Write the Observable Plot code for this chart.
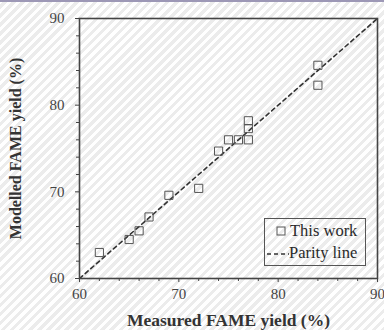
<!DOCTYPE html>
<html>
<head>
<meta charset="utf-8">
<script src="https://cdn.jsdelivr.net/npm/d3@7"></script>
<script src="https://cdn.jsdelivr.net/npm/@observablehq/plot@0.6"></script>
<style>
  html, body { margin: 0; padding: 0; }
  body {
    width: 384px; height: 330px; overflow: hidden; position: relative;
    background: repeating-linear-gradient(135deg, #ffffff 0px, #ffffff 3.2px, #ececec 3.2px, #ececec 6.4px);
    font-family: "Liberation Serif", "DejaVu Serif", serif;
  }
  #topbar { position: absolute; left: 0; top: 0; width: 384px; height: 2px; background: #9d98b6; }
  #chart { position: absolute; left: 0; top: 0; }
  #legend {
    position: absolute; left: 264px; top: 218px; width: 102px; height: 48px;
    border: 1px solid #555; box-sizing: border-box;
    font-family: "Liberation Serif", serif; font-size: 16.5px; color: #2a2a2a;
  }
  #legend .row { position: absolute; left: 0; height: 20px; line-height: 20px; white-space: nowrap; }
</style>
</head>
<body>
<div id="chart"></div>
<div id="topbar"></div>
<div id="legend">
  <div class="row" style="top:2px;">
    <svg width="25" height="20" style="vertical-align:top"><rect x="12" y="6" width="8" height="8" fill="none" stroke="#555" stroke-width="1"/></svg><span>This work</span>
  </div>
  <div class="row" style="top:24px;">
    <svg width="24" height="20" style="vertical-align:top"><line x1="2" y1="11" x2="24" y2="11" stroke="#333" stroke-width="1.6" stroke-dasharray="4,3"/></svg><span>Parity line</span>
  </div>
</div>
<script>
// Data
const measured = [62, 65, 66, 67, 69, 72, 74, 75, 76, 77, 77, 77, 84, 84];
const modelled = [63, 64.5, 65.5, 67.1, 69.6, 70.4, 74.7, 76, 76, 76, 77.3, 78.2, 84.6, 82.3];
const parity = [60, 90];
const majorTicks = [60, 70, 80, 90];
const minorTicks = [62, 64, 66, 68, 72, 74, 76, 78, 82, 84, 86, 88];

const points = measured.map((m, i) => ({measured: m, modelled: modelled[i]}));
const parityLine = parity.map(v => ({measured: v, modelled: v}));

const chart = Plot.plot({
  width: 384,
  height: 330,
  marginLeft: 79,
  marginRight: 7,
  marginTop: 18,
  marginBottom: 52,
  style: {background: "transparent", fontFamily: "Liberation Serif, serif", fontSize: "15px", color: "#444"},
  x: {domain: [60, 90]},
  y: {domain: [60, 90]},
  marks: [
    Plot.line(parityLine, {x: "measured", y: "modelled", stroke: "#333", strokeWidth: 1.6, strokeDasharray: "4,3.5"}),
    Plot.dot(points, {x: "measured", y: "modelled", symbol: "square", r: 4.6, stroke: "#555", strokeWidth: 1, fill: "none"}),
    Plot.axisX({ticks: minorTicks, tickSize: 3, tickFormat: () => "", label: null, stroke: "#444"}),
    Plot.axisY({ticks: minorTicks, tickSize: 3, tickFormat: () => "", label: null, stroke: "#444"}),
    Plot.axisX({ticks: majorTicks, tickSize: 4, tickPadding: 6, label: "Measured FAME yield (%)", labelAnchor: "center", labelOffset: 47, labelArrow: "none", stroke: "#444", fill: "#444", fontSize: 15}),
    Plot.axisY({ticks: majorTicks, tickSize: 4, tickPadding: 11, label: "Modelled FAME yield (%)", labelAnchor: "center", labelOffset: 70, labelArrow: "none", stroke: "#444", fill: "#444", fontSize: 15}),
    Plot.frame({stroke: "#444", strokeWidth: 1.6})
  ]
});
document.getElementById("chart").appendChild(chart);
// bold axis titles
chart.querySelectorAll("g[aria-label='x-axis label'] text").forEach(t => {
  t.setAttribute("font-weight", "bold");
  t.setAttribute("font-size", "17.5");
  t.setAttribute("fill", "#333");
});
chart.querySelectorAll("g[aria-label='y-axis label'] text").forEach(t => {
  t.setAttribute("font-weight", "bold");
  t.setAttribute("font-size", "16");
  t.setAttribute("fill", "#333");
});
</script>
</body>
</html>
